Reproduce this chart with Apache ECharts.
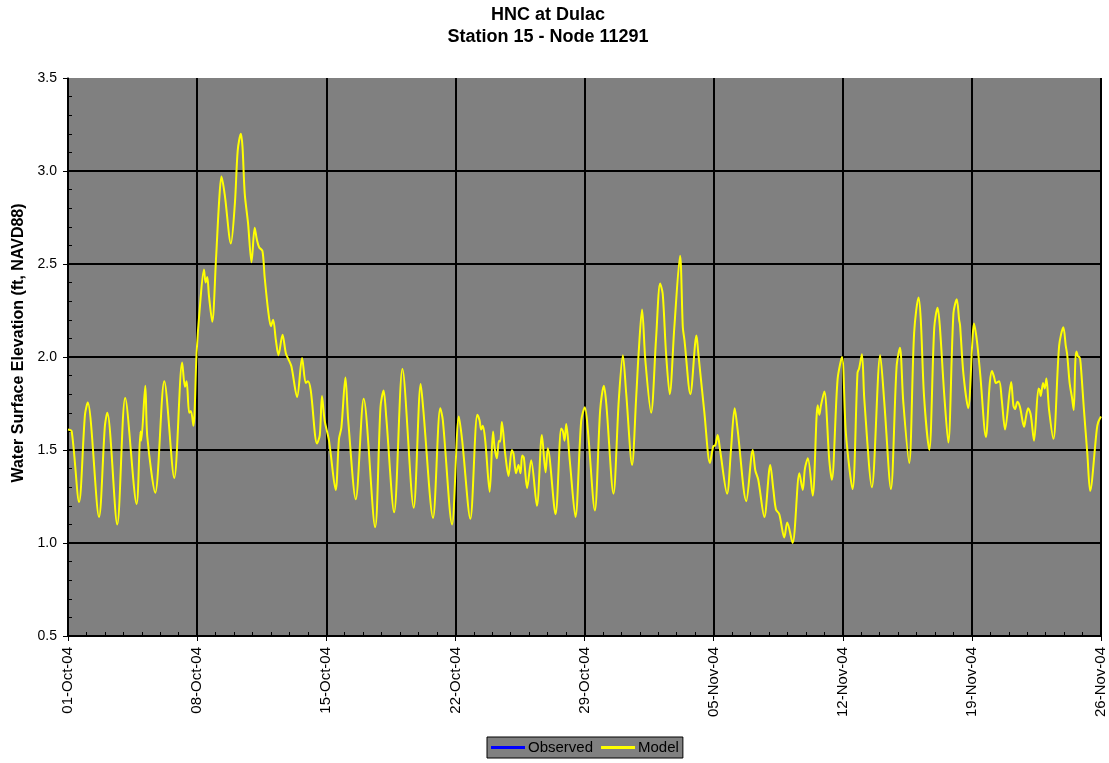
<!DOCTYPE html>
<html>
<head>
<meta charset="utf-8">
<title>HNC at Dulac - Station 15 - Node 11291</title>
<script src="https://cdn.jsdelivr.net/npm/echarts@6/dist/echarts.min.js"></script>
<style>
  html, body { margin: 0; padding: 0; background: #ffffff; }
  #chart { width: 1109px; height: 763px; }
</style>
</head>
<body>
<div id="chart"></div>
<script>
// Time in days since 01-Oct-2004 00:00, elevation in ft (NAVD88)
const modelDay = [
  0.00, 0.20, 0.60, 0.92, 1.07, 1.68, 2.00, 2.13, 2.67, 3.10, 3.72, 3.93, 3.97, 4.19, 4.30, 4.73,
  5.22, 5.76, 6.19, 6.34, 6.43, 6.57, 6.66, 6.80, 6.97, 7.15, 7.37, 7.46, 7.55, 7.64, 7.82, 8.02,
  8.20, 8.32, 8.50, 8.83, 9.05, 9.20, 9.37, 9.46, 9.58, 9.76, 9.95, 10.12, 10.24, 10.36, 10.54, 10.66,
  10.85, 11.00, 11.12, 11.27, 11.41, 11.63, 11.81, 11.94, 12.11, 12.42, 12.69, 12.89, 13.01, 13.16, 13.50, 13.65,
  13.77, 13.91, 14.15, 14.51, 14.69, 14.82, 15.04, 15.19, 15.60, 16.03, 16.65, 16.94, 17.11, 17.25, 17.68, 18.13,
  18.74, 19.12, 19.25, 19.79, 20.18, 20.32, 20.82, 21.19, 21.37, 21.81, 22.19, 22.31, 22.40, 22.49, 22.62, 22.86,
  23.04, 23.13, 23.25, 23.36, 23.43, 23.52, 23.70, 23.88, 24.06, 24.15, 24.29, 24.42, 24.53, 24.62, 24.71, 24.89,
  25.11, 25.42, 25.69, 25.89, 26.01, 26.43, 26.74, 26.83, 26.92, 27.01, 27.20, 27.51, 27.82, 28.02, 28.18, 28.56,
  28.85, 29.05, 29.18, 29.57, 29.86, 30.08, 30.26, 30.58, 30.80, 30.94, 31.12, 31.30, 31.61, 31.88, 32.10, 32.24,
  32.42, 32.62, 32.87, 33.18, 33.33, 33.42, 33.74, 34.07, 34.17, 34.50, 34.80, 34.98, 35.09, 35.22, 35.35, 35.73,
  35.94, 36.14, 36.30, 36.77, 37.12, 37.26, 37.42, 37.75, 38.07, 38.24, 38.38, 38.56, 38.83, 38.99, 39.28, 39.65,
  39.83, 39.95, 40.11, 40.37, 40.64, 40.73, 40.82, 41.00, 41.27, 41.41, 41.72, 41.96, 42.17, 42.53, 42.80, 42.89,
  43.04, 43.17, 43.58, 44.03, 44.25, 44.61, 44.92, 45.10, 45.28, 45.60, 45.87, 46.11, 46.23, 46.41, 46.69, 46.96,
  47.14, 47.26, 47.50, 47.72, 48.00, 48.18, 48.31, 48.36, 48.54, 48.80, 49.03, 49.11, 49.27, 49.45, 49.76, 49.97,
  50.09, 50.21, 50.30, 50.48, 50.62, 50.80, 51.13, 51.25, 51.34, 51.47, 51.61, 51.83, 51.92, 52.05, 52.19, 52.37,
  52.61, 52.68, 52.73, 52.86, 52.95, 53.04, 53.18, 53.42, 53.73, 53.96, 54.09, 54.17, 54.30, 54.43, 54.52, 54.61,
  54.67, 54.78, 54.84, 54.90, 55.08, 55.26, 55.41, 55.77, 55.85, 56.00
];
const modelElev = [
  1.61, 1.60, 1.22, 1.69, 1.755, 1.14, 1.63, 1.70, 1.10, 1.78, 1.21, 1.60, 1.55, 1.845, 1.57, 1.27,
  1.87, 1.35, 1.97, 1.84, 1.87, 1.70, 1.71, 1.63, 2.02, 2.27, 2.47, 2.40, 2.43, 2.33, 2.19, 2.52,
  2.85, 2.97, 2.87, 2.61, 2.83, 3.11, 3.20, 3.13, 2.88, 2.72, 2.51, 2.695, 2.63, 2.59, 2.57, 2.43,
  2.25, 2.165, 2.20, 2.09, 2.01, 2.12, 2.02, 1.99, 1.95, 1.785, 1.995, 1.86, 1.87, 1.82, 1.535, 1.58,
  1.79, 1.66, 1.55, 1.285, 1.56, 1.62, 1.89, 1.66, 1.235, 1.775, 1.085, 1.73, 1.82, 1.68, 1.165, 1.935,
  1.19, 1.855, 1.73, 1.135, 1.725, 1.66, 1.10, 1.68, 1.55, 1.13, 1.69, 1.66, 1.61, 1.63, 1.55, 1.275,
  1.60, 1.51, 1.455, 1.55, 1.545, 1.65, 1.48, 1.36, 1.50, 1.48, 1.375, 1.42, 1.375, 1.47, 1.46, 1.295,
  1.445, 1.20, 1.58, 1.38, 1.51, 1.155, 1.615, 1.60, 1.55, 1.64, 1.445, 1.14, 1.655, 1.73, 1.61, 1.175,
  1.715, 1.845, 1.75, 1.265, 1.77, 2.01, 1.805, 1.42, 1.78, 2.03, 2.255, 1.98, 1.70, 2.10, 2.395, 2.34,
  2.02, 1.80, 2.16, 2.545, 2.16, 2.09, 1.80, 2.115, 2.02, 1.70, 1.43, 1.52, 1.525, 1.58, 1.50, 1.265,
  1.50, 1.725, 1.61, 1.225, 1.50, 1.39, 1.34, 1.14, 1.42, 1.285, 1.18, 1.155, 1.03, 1.11, 1.00, 1.375,
  1.285, 1.40, 1.455, 1.255, 1.74, 1.69, 1.74, 1.815, 1.445, 1.34, 1.88, 2.00, 1.59, 1.29, 1.915, 1.94,
  2.015, 1.77, 1.30, 2.01, 1.76, 1.29, 1.95, 2.05, 1.76, 1.43, 2.13, 2.32, 2.20, 1.785, 1.50, 2.155,
  2.265, 2.17, 1.80, 1.54, 2.235, 2.31, 2.20, 2.17, 1.91, 1.725, 2.09, 2.18, 2.09, 1.91, 1.57, 1.86,
  1.925, 1.89, 1.86, 1.87, 1.77, 1.61, 1.865, 1.74, 1.72, 1.76, 1.73, 1.625, 1.67, 1.725, 1.69, 1.55,
  1.83, 1.82, 1.79, 1.86, 1.83, 1.885, 1.72, 1.56, 2.06, 2.16, 2.06, 2.01, 1.86, 1.78, 1.715, 1.98,
  2.03, 2.00, 2.00, 1.96, 1.71, 1.48, 1.28, 1.61, 1.65, 1.68
];
// No observed record is available over this period
const observedDay = [];
const observedElev = [];

const tickLabels = ['01-Oct-04', '08-Oct-04', '15-Oct-04', '22-Oct-04', '29-Oct-04',
                    '05-Nov-04', '12-Nov-04', '19-Nov-04', '26-Nov-04'];
const yTicks = [0.5, 1.0, 1.5, 2.0, 2.5, 3.0, 3.5];

const FONT = "'Liberation Sans', Arial, sans-serif";
const pairs = (xs, ys) => xs.map((x, i) => [x, ys[i]]);

const chart = echarts.init(document.getElementById('chart'), null, { renderer: 'canvas' });
chart.setOption({
  backgroundColor: '#ffffff',
  animation: false,
  title: {
    text: 'HNC at Dulac\nStation 15 - Node 11291',
    left: 548,
    top: 4,
    padding: 0,
    textAlign: 'center',
    textStyle: { fontFamily: FONT, fontSize: 18, fontWeight: 'bold', color: '#000', lineHeight: 22 }
  },
  legend: {
    left: 487,
    top: 737,
    padding: [3, 4, 3, 4],
    itemGap: 8,
    itemWidth: 34,
    itemHeight: 3,
    icon: 'rect',
    backgroundColor: '#808080',
    borderColor: '#000',
    borderWidth: 1,
    textStyle: { fontFamily: FONT, fontSize: 15, color: '#000', padding: [0, 0, 0, -2] },
    data: ['Observed', 'Model']
  },
  grid: {
    left: 68, right: 8, top: 78, bottom: 127,
    show: true, backgroundColor: '#808080', borderWidth: 0
  },
  xAxis: {
    type: 'value',
    min: 0, max: 56, interval: 7,
    axisLine: { show: true, onZero: false, lineStyle: { color: '#000', width: 1.5 } },
    axisTick: { show: true, length: 5, lineStyle: { color: '#000', width: 1 } },
    minorTick: { show: true, splitNumber: 7, length: -4, lineStyle: { color: '#000', width: 1 } },
    splitLine: { show: true, lineStyle: { color: '#000', width: 2 } },
    axisLabel: {
      rotate: 90, margin: 11, color: '#000', fontFamily: FONT, fontSize: 15,
      formatter: v => tickLabels[Math.round(v / 7)]
    }
  },
  yAxis: {
    type: 'value',
    min: yTicks[0], max: yTicks[yTicks.length - 1], interval: 0.5,
    name: 'Water Surface Elevation (ft, NAVD88)',
    nameLocation: 'middle',
    nameGap: 41,
    nameTextStyle: {
      fontFamily: FONT, fontSize: 16, fontWeight: 'bold', color: '#000',
      padding: [0, 0, 0, 28]
    },
    axisLine: { show: true, lineStyle: { color: '#000', width: 1.5 } },
    axisTick: { show: true, length: 5, lineStyle: { color: '#000', width: 1 } },
    minorTick: { show: true, splitNumber: 5, length: -4, lineStyle: { color: '#000', width: 1 } },
    splitLine: { show: true, showMaxLine: false, lineStyle: { color: '#000', width: 2 } },
    axisLabel: {
      margin: 11, color: '#000', fontFamily: FONT, fontSize: 14,
      formatter: v => v.toFixed(1)
    }
  },
  series: [
    {
      name: 'Observed',
      type: 'line',
      data: pairs(observedDay, observedElev),
      showSymbol: false,
      color: '#0000ff',
      lineStyle: { color: '#0000ff', width: 3 }
    },
    {
      name: 'Model',
      type: 'line',
      data: pairs(modelDay, modelElev),
      showSymbol: false,
      smooth: 0.3,
      color: '#ffff00',
      lineStyle: { color: '#ffff00', width: 2 }
    }
  ]
});
</script>
</body>
</html>
